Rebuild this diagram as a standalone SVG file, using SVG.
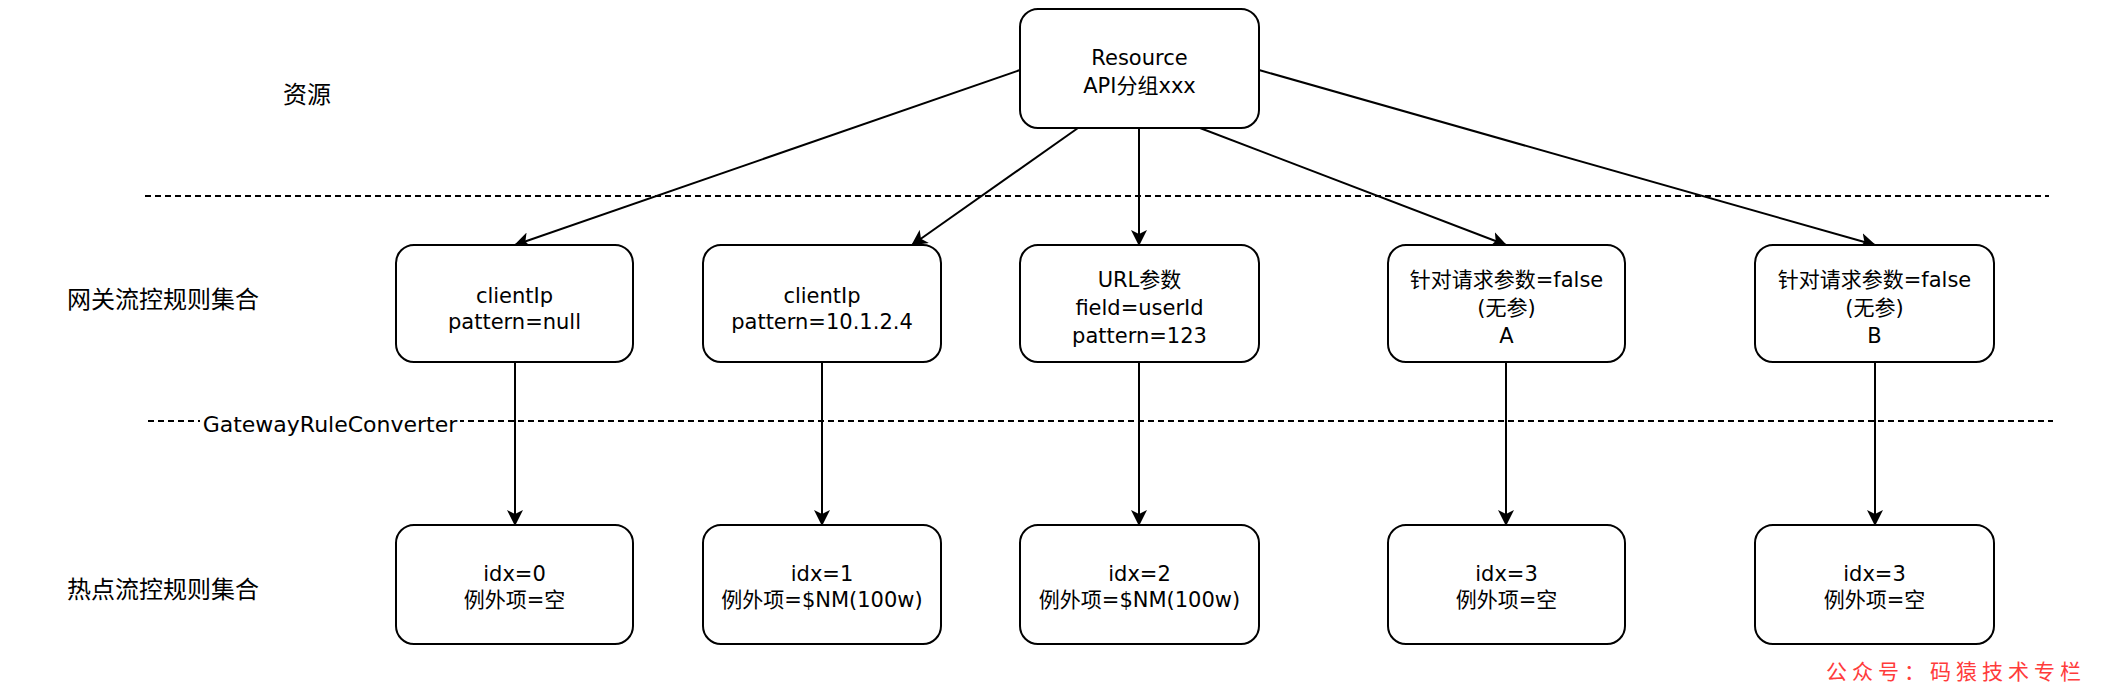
<svg xmlns="http://www.w3.org/2000/svg" width="2104" height="698" viewBox="0 0 2104 698">
<defs>
<marker id="arr" viewBox="0 0 16 16" refX="15" refY="8" markerWidth="16" markerHeight="16" markerUnits="userSpaceOnUse" orient="auto">
<path d="M0,0 L16,8 L0,16 L4,8 Z" fill="#000" stroke="none"/>
</marker>
<style>
.box{fill:#fff;stroke:#000;stroke-width:2}
.t{font-family:"DejaVu Sans","Noto Sans CJK SC",sans-serif;font-size:21px;fill:#000;text-anchor:middle;dominant-baseline:central}
.lbl{font-family:"Noto Sans CJK SC",sans-serif;font-size:24px;fill:#000;dominant-baseline:central}
.dash{stroke:#000;stroke-width:2;stroke-dasharray:6 4;fill:none}
.edge{stroke:#000;stroke-width:2;fill:none;marker-end:url(#arr)}
</style>
</defs>
<rect width="2104" height="698" fill="#fff"/>

<g id="separators">
<line class="dash" x1="145" y1="196" x2="2049" y2="196"/>
<line class="dash" x1="148" y1="421" x2="2053" y2="421"/>
</g>

<g id="labels">
<text class="lbl" x="283" y="92">资源</text>
<text class="lbl" x="67" y="297">网关流控规则集合</text>
<text class="lbl" x="67" y="587">热点流控规则集合</text>
<rect x="200" y="408" width="260" height="30" fill="#fff"/>
<text class="t" x="330" y="424" style="font-size:22px">GatewayRuleConverter</text>
</g>

<g id="connectors">
<line class="edge" x1="1020" y1="70" x2="515" y2="245"/>
<line class="edge" x1="1078" y1="128" x2="912" y2="245"/>
<line class="edge" x1="1139" y1="128" x2="1139" y2="245"/>
<line class="edge" x1="1200" y1="128" x2="1506" y2="245"/>
<line class="edge" x1="1259" y1="70" x2="1875" y2="245"/>
<line class="edge" x1="515" y1="362" x2="515" y2="525"/>
<line class="edge" x1="822" y1="362" x2="822" y2="525"/>
<line class="edge" x1="1139" y1="362" x2="1139" y2="525"/>
<line class="edge" x1="1506" y1="362" x2="1506" y2="525"/>
<line class="edge" x1="1875" y1="362" x2="1875" y2="525"/>
</g>

<g id="resource">
<rect class="box" x="1020" y="9" width="239" height="119" rx="18"/>
<text class="t" x="1139.5" y="58">Resource</text>
<text class="t" x="1139.5" y="86">API分组xxx</text>
</g>

<g id="gw1">
<rect class="box" x="396" y="245" width="237" height="117" rx="18"/>
<text class="t" x="514.5" y="296">clientIp</text>
<text class="t" x="514.5" y="322">pattern=null</text>
</g>
<g id="gw2">
<rect class="box" x="703" y="245" width="238" height="117" rx="18"/>
<text class="t" x="822" y="296">clientIp</text>
<text class="t" x="822" y="322">pattern=10.1.2.4</text>
</g>
<g id="gw3">
<rect class="box" x="1020" y="245" width="239" height="117" rx="18"/>
<text class="t" x="1139.5" y="280">URL参数</text>
<text class="t" x="1139.5" y="308">field=userId</text>
<text class="t" x="1139.5" y="336">pattern=123</text>
</g>
<g id="gw4">
<rect class="box" x="1388" y="245" width="237" height="117" rx="18"/>
<text class="t" x="1506.5" y="280">针对请求参数=false</text>
<text class="t" x="1506.5" y="308">(无参)</text>
<text class="t" x="1506.5" y="336">A</text>
</g>
<g id="gw5">
<rect class="box" x="1755" y="245" width="239" height="117" rx="18"/>
<text class="t" x="1874.5" y="280">针对请求参数=false</text>
<text class="t" x="1874.5" y="308">(无参)</text>
<text class="t" x="1874.5" y="336">B</text>
</g>

<g id="hp1">
<rect class="box" x="396" y="525" width="237" height="119" rx="18"/>
<text class="t" x="514.5" y="574">idx=0</text>
<text class="t" x="514.5" y="600">例外项=空</text>
</g>
<g id="hp2">
<rect class="box" x="703" y="525" width="238" height="119" rx="18"/>
<text class="t" x="822" y="574">idx=1</text>
<text class="t" x="822" y="600">例外项=$NM(100w)</text>
</g>
<g id="hp3">
<rect class="box" x="1020" y="525" width="239" height="119" rx="18"/>
<text class="t" x="1139.5" y="574">idx=2</text>
<text class="t" x="1139.5" y="600">例外项=$NM(100w)</text>
</g>
<g id="hp4">
<rect class="box" x="1388" y="525" width="237" height="119" rx="18"/>
<text class="t" x="1506.5" y="574">idx=3</text>
<text class="t" x="1506.5" y="600">例外项=空</text>
</g>
<g id="hp5">
<rect class="box" x="1755" y="525" width="239" height="119" rx="18"/>
<text class="t" x="1874.5" y="574">idx=3</text>
<text class="t" x="1874.5" y="600">例外项=空</text>
</g>

<g id="watermark">
<text x="1826" y="670" style="font-family:'Noto Sans CJK SC',sans-serif;font-size:21px;fill:#ff3b3b;letter-spacing:5px;dominant-baseline:central">公众号：码猿技术专栏</text>
</g>
</svg>
